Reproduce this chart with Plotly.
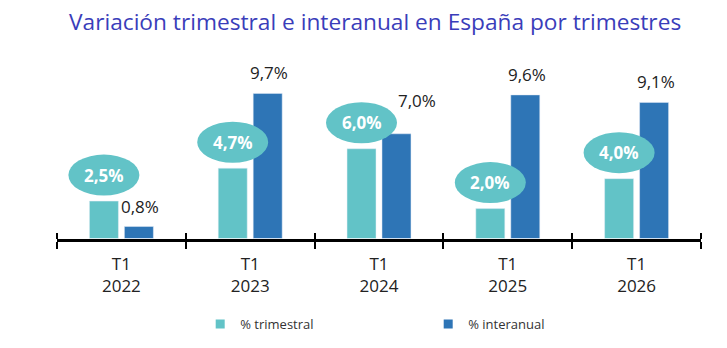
import plotly.graph_objects as go

periods = ["T1<br>2022", "T1<br>2023", "T1<br>2024", "T1<br>2025", "T1<br>2026"]
trimestral = [2.5, 4.7, 6.0, 2.0, 4.0]
interanual = [0.8, 9.7, 7.0, 9.6, 9.1]
series_names = ["% trimestral", "% interanual"]

TEAL = "#62c3c7"
BLUE = "#2e75b6"
FONT = "Open Sans"

# extra pixel nudges for labels that the original moved to avoid a bubble
label_nudge = {2: (19, 13)}


def fmt(v):
    return f"{v:.1f}".replace(".", ",") + "%"


fig = go.Figure()
fig.add_trace(go.Bar(x=periods, y=trimestral, marker_color=TEAL, showlegend=False,
                     hoverinfo="skip"))
fig.add_trace(go.Bar(x=periods, y=interanual, marker_color=BLUE, showlegend=False,
                     hoverinfo="skip"))
fig.add_trace(go.Scatter(x=[None], y=[None], mode="markers", name=series_names[0],
                         marker=dict(symbol="square", size=9, color=TEAL)))
fig.add_trace(go.Scatter(x=[None], y=[None], mode="markers", name=series_names[1],
                         marker=dict(symbol="square", size=9, color=BLUE)))
# invisible trace carrying the overlay axis that draws the upper half of the ticks
fig.add_trace(go.Scatter(x=periods, y=[0] * len(periods), xaxis="x2", mode="markers",
                         marker=dict(opacity=0), showlegend=False, hoverinfo="skip"))

shapes = []
annotations = []
for i, (p, t, a) in enumerate(zip(periods, trimestral, interanual)):
    shapes.append(dict(
        type="circle", xref="x", yref="y",
        xsizemode="pixel", ysizemode="pixel",
        xanchor=i, yanchor=t,
        x0=-17.5 - 35.5, x1=-17.5 + 35.5, y0=5.5, y1=46.5,
        fillcolor=TEAL, line=dict(width=0), layer="above",
    ))
    annotations.append(dict(
        x=p, y=t, xref="x", yref="y", xshift=-17.5, yshift=26,
        yanchor="middle", xanchor="center", showarrow=False,
        text="<b>" + fmt(t) + "</b>",
        font=dict(family=FONT, size=17, color="white"),
    ))
    dx, dy = label_nudge.get(i, (0, 0))
    annotations.append(dict(
        x=p, y=a, xref="x", yref="y", xshift=19 + dx, yshift=7 + dy,
        yanchor="bottom", showarrow=False, text=fmt(a),
        font=dict(family=FONT, size=17, color="#222222"),
    ))

n = len(periods)

fig.update_layout(
    width=727, height=348,
    margin=dict(l=57, r=26, t=59, b=107),
    plot_bgcolor="white", paper_bgcolor="white",
    barmode="group", bargap=0.457, bargroupgap=0.171,
    title=dict(text="Variación trimestral e interanual en España por trimestres",
               x=0.516, xref="container", xanchor="center",
               y=1 - 22 / 348, yref="container", yanchor="middle",
               font=dict(family=FONT, size=22.7, color="#3a3dba")),
    xaxis=dict(showline=True, linecolor="black", linewidth=3,
               ticks="outside", ticklen=7, tickwidth=2, tickcolor="black",
               tickson="boundaries", showgrid=False, ticklabelstandoff=8,
               tickfont=dict(family=FONT, size=17, color="#222222")),
    xaxis2=dict(overlaying="x", anchor="free", position=0, side="top", type="category",
                range=[-0.5, n - 0.5], tickson="boundaries",
                ticks="outside", ticklen=6, tickwidth=2, tickcolor="black",
                showticklabels=False, showgrid=False, zeroline=False, showline=False),
    yaxis=dict(range=[0, 12], visible=False),
    shapes=shapes, annotations=annotations,
    legend=dict(orientation="h", x=0.589, xanchor="center", xref="container",
                y=1 - 324 / 348, yref="container", yanchor="middle",
                entrywidth=183, itemwidth=30,
                font=dict(family=FONT, size=13, color="#333333")),
    font=dict(family=FONT),
)

fig.write_html("out.html")
